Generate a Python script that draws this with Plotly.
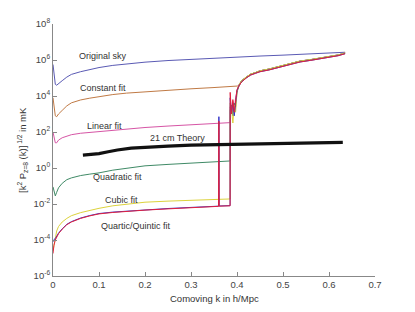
import numpy as np
import plotly.graph_objects as go

# ---------------- data (log10 of [k^2 P(k)]^(1/2) in mK) ----------------
k_low = [0, 0.002, 0.005, 0.008, 0.012, 0.02, 0.03, 0.04, 0.06, 0.08, 0.1,
         0.13, 0.16, 0.2, 0.25, 0.3, 0.35, 0.385]

orig_k = k_low[:-1] + [0.4, 0.45, 0.5, 0.55, 0.6, 0.62, 0.635]
orig_log = [5.75, 5.2, 4.65, 4.6, 4.7, 4.85, 5.05, 5.2, 5.35, 5.48, 5.58,
            5.7, 5.79, 5.88, 5.97, 6.04, 6.1, 6.16, 6.22, 6.27, 6.32, 6.38, 6.4, 6.43]

const_log = [3.9, 3.4, 2.9, 2.85, 3.0, 3.2, 3.45, 3.62, 3.78, 3.88, 3.97,
             4.08, 4.16, 4.24, 4.32, 4.4, 4.47, 4.52]
linear_log = [2.0, 1.7, 1.4, 1.4, 1.55, 1.68, 1.78, 1.85, 1.93, 1.98, 2.03,
              2.1, 2.16, 2.25, 2.33, 2.4, 2.48, 2.52]
quad_log = [-1.05, -1.3, -1.55, -1.35, -1.1, -0.85, -0.65, -0.55, -0.42, -0.34, -0.27,
            -0.12, -0.02, 0.12, 0.2, 0.27, 0.34, 0.39]
cubic_log = [-4.6, -4.3, -3.9, -3.5, -3.25, -3.0, -2.8, -2.65, -2.48, -2.35, -2.24,
             -2.1, -2.0, -1.9, -1.84, -1.79, -1.75, -1.72]
quartic_log = [-4.1, -3.98, -3.92, -3.8, -3.62, -3.38, -3.13, -2.98, -2.78, -2.64, -2.53,
               -2.45, -2.39, -2.32, -2.25, -2.19, -2.14, -2.09]
quintic_log = [-4.75, -4.3, -4.0, -3.85, -3.65, -3.4, -3.15, -3.0, -2.8, -2.66, -2.55,
               -2.47, -2.4, -2.34, -2.27, -2.21, -2.15, -2.1]

# glitch near k = 0.36 in the quartic / quintic residuals
spike_k = [0.36, 0.3606, 0.3612]
quartic_spike = [-2.12, 2.85, -2.11]
quintic_spike = [-2.13, 2.6, -2.12]

# noisy rise at high k where all fits fail
head_k = [0.3852, 0.388, 0.391, 0.394, 0.397, 0.4]
linear_head = [3.4, 3.0, 3.7, 3.2, 3.9, 4.3]
quad_head = [3.2, 3.5, 2.9, 3.6, 3.4, 4.2]
cubic_head = [3.6, 3.3, 2.5, 3.5, 3.1, 4.25]
quartic_head = [3.9, 3.1, 3.6, 2.9, 3.8, 4.3]
quintic_head = [4.2, 3.0, 3.8, 3.1, 3.9, 4.35]
const_head_k = [0.405]
const_head = [4.56]

tail_k = [0.405, 0.41, 0.42, 0.43, 0.44, 0.45, 0.47, 0.49, 0.51, 0.537, 0.56,
          0.58, 0.6, 0.62, 0.635]
tail_main = [4.65, 4.85, 5.05, 5.22, 5.3, 5.4, 5.5, 5.63, 5.76, 5.94, 6.02,
             6.11, 6.18, 6.28, 6.39]
tail_red = [4.6, 4.78, 5.0, 5.17, 5.26, 5.35, 5.45, 5.58, 5.71, 5.89, 5.98,
            6.06, 6.14, 6.24, 6.35]

theory_k = [0.065, 0.08, 0.1, 0.12, 0.14, 0.17, 0.2, 0.25, 0.3, 0.35, 0.4,
            0.45, 0.5, 0.55, 0.6, 0.63]
theory_log = [0.72, 0.75, 0.8, 0.9, 1.0, 1.1, 1.16, 1.22, 1.27, 1.3, 1.33,
              1.36, 1.38, 1.4, 1.41, 1.42]

y_tick_exp = [-6, -4, -2, 0, 2, 4, 6, 8]
x_tick_vals = [0, 0.1, 0.2, 0.3, 0.4, 0.5, 0.6, 0.7]
x_tick_text = ["0", "0.1", "0.2", "0.3", "0.4", "0.5", "0.6", "0.7"]

labels = [  # text, k, log10 value
    ("Original sky", 0.109, 6.22),
    ("Constant fit", 0.108, 4.47),
    ("Linear fit", 0.113, 2.33),
    ("21 cm Theory", 0.271, 1.67),
    ("Quadratic fit", 0.141, -0.5),
    ("Cubic fit", 0.148, -1.78),
    ("Quartic/Quintic fit", 0.18, -3.22),
]

# ---------------- build ----------------
def pw(v):
    return list(10.0 ** np.array(v, dtype=float))

fig = go.Figure()

def add(x, ylog, color, width=1.0):
    fig.add_trace(go.Scatter(x=x, y=pw(ylog), mode="lines",
                             line=dict(color=color, width=width),
                             hoverinfo="skip", showlegend=False))

add(orig_k, orig_log, "#5a5ab4")
add(k_low + const_head_k + tail_k[1:], const_log + const_head + tail_main[1:], "#c07a45")
add(k_low + head_k + tail_k, linear_log + linear_head + tail_main, "#d655a5")
add(k_low + head_k + tail_k, quad_log + quad_head + tail_main, "#3f8a66")
add(k_low + head_k + tail_k, cubic_log + cubic_head + tail_main, "#dcd23c")
add(k_low[:-1] + spike_k + k_low[-1:] + head_k + tail_k,
    quartic_log[:-1] + quartic_spike + quartic_log[-1:] + quartic_head + tail_red,
    "#3232c8")
add(k_low[:-1] + spike_k + k_low[-1:] + head_k + tail_k,
    quintic_log[:-1] + quintic_spike + quintic_log[-1:] + quintic_head + tail_red,
    "#e2203c")
add(theory_k, theory_log, "#111111", width=3.2)

for text, kx, ly in labels:
    fig.add_annotation(x=kx, y=ly, text=text, showarrow=False,
                       xanchor="center", yanchor="middle",
                       font=dict(size=9, color="#333333"))

fig.add_annotation(x=0, xref="paper", y=0.5, yref="paper", xshift=-31,
                   text="[k<sup>2</sup> P<sub>z=8</sub> (k)]<sup> 1/2</sup> in mK",
                   textangle=-90, showarrow=False, xanchor="center", yanchor="middle",
                   font=dict(size=9.5, color="#333333"))

fig.add_annotation(x=0.5, xref="paper", y=0, yref="paper", yshift=-22,
                   text="Comoving k in h/Mpc", showarrow=False,
                   xanchor="center", yanchor="middle",
                   font=dict(size=9.5, color="#333333"))

# page body has an 8px default margin, so the figure is 8px smaller
fig.update_layout(
    width=407, height=304,
    margin=dict(l=45, r=40, t=16, b=36, autoexpand=False),
    paper_bgcolor="white", plot_bgcolor="white",
    font=dict(family="Liberation Sans, Arial, sans-serif", size=9.5, color="#444444"),
    xaxis=dict(range=[0, 0.7], tickvals=x_tick_vals, ticktext=x_tick_text,
               showgrid=False, zeroline=False, showline=True, linecolor="#888888",
               linewidth=1, ticks="inside", ticklen=4, tickcolor="#888888",
               automargin=False),
    yaxis=dict(type="log", range=[-6, 8], tickvals=[10.0 ** e for e in y_tick_exp],
               ticktext=["10<sup>%d</sup>" % e for e in y_tick_exp],
               showgrid=False, zeroline=False, showline=True, linecolor="#888888",
               linewidth=1, ticks="inside", ticklen=4, tickcolor="#888888",
               automargin=False),
)

fig.write_html("out.html")
